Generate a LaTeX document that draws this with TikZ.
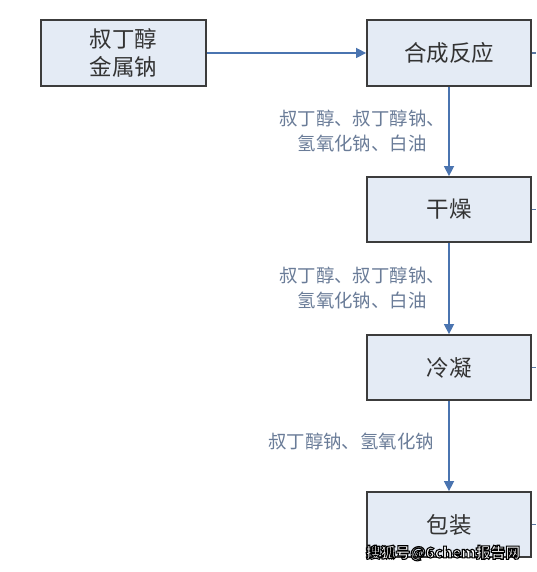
\documentclass[tikz,border=0pt]{standalone}
\usepackage{fontspec}
\setmainfont{Noto Sans CJK SC}
\newfontfamily\cjk{Noto Sans CJK SC}
\usetikzlibrary{arrows.meta,positioning}
\definecolor{boxfill}{HTML}{E4EBF5}
\definecolor{boxedge}{HTML}{3C3C3C}
\definecolor{flowblue}{HTML}{4A74B0}
\definecolor{labelcol}{HTML}{6A7C98}
\definecolor{boxtext}{HTML}{333333}
\newcommand{\outlinetext}[1]{\color{white}\special{pdf:literal direct 0 0 0 RG 1.1 w 2 Tr}#1\special{pdf:literal direct 0 Tr}}
\tikzset{
  procbox/.style={draw=boxedge, line width=1.8pt, fill=boxfill, minimum width=164pt, minimum height=66pt, inner sep=0pt, text=boxtext, font=\cjk\fontsize{22.5}{28}\selectfont, align=center},
  flow/.style={draw=flowblue, line width=1.5pt, -{Triangle[length=10pt,width=10pt]}},
  stub/.style={draw=flowblue!70!gray, line width=1.2pt},
  lbl/.style={text=labelcol, font=\cjk\fontsize{18.4}{25}\selectfont, align=center, inner sep=0pt},
}
\begin{document}
\begin{tikzpicture}[x=1pt,y=-1pt]
\useasboundingbox (0,0) rectangle (536,572);
\fill[white] (0,0) rectangle (536,572);
\node[procbox, minimum width=165pt] (raw) at (123.5,53) {叔丁醇\\金属钠};
\node[procbox] (syn) at (449,53) {合成反应};
\node[procbox, minimum height=65pt] (dry) at (449,209.5) {干燥};
\node[procbox, minimum height=65pt] (cond) at (449,367.5) {冷凝};
\node[procbox, minimum height=65pt] (pack) at (449,524.5) {包装};
\coordinate (e1) at (536,53);
\coordinate (e2) at (536,209.5);
\coordinate (e3) at (536,367.5);
\coordinate (e4) at (536,524.5);
\draw[stub] (syn.east) -- (e1);
\draw[stub] (dry.east) -- (e2);
\draw[stub] (cond.east) -- (e3);
\draw[stub] (pack.east) -- (e4);
\draw[flow] (raw.east) -- (syn.west);
\draw[flow] (syn.south) -- (dry.north);
\draw[flow] (dry.south) -- (cond.north);
\draw[flow] (cond.south) -- (pack.north);
\node[lbl] (l1) at (362,131) {叔丁醇、叔丁醇钠、\\氢氧化钠、白油};
\node[lbl] (l2) at (362,288) {叔丁醇、叔丁醇钠、\\氢氧化钠、白油};
\node[lbl] (l3) at (351,441) {叔丁醇钠、氢氧化钠};
\node[font=\cjk\bfseries\fontsize{14.8}{18}\selectfont, inner sep=0pt] (wm) at (443,553) {\outlinetext{搜狐号@6chem报告网}};
\end{tikzpicture}
\end{document}
